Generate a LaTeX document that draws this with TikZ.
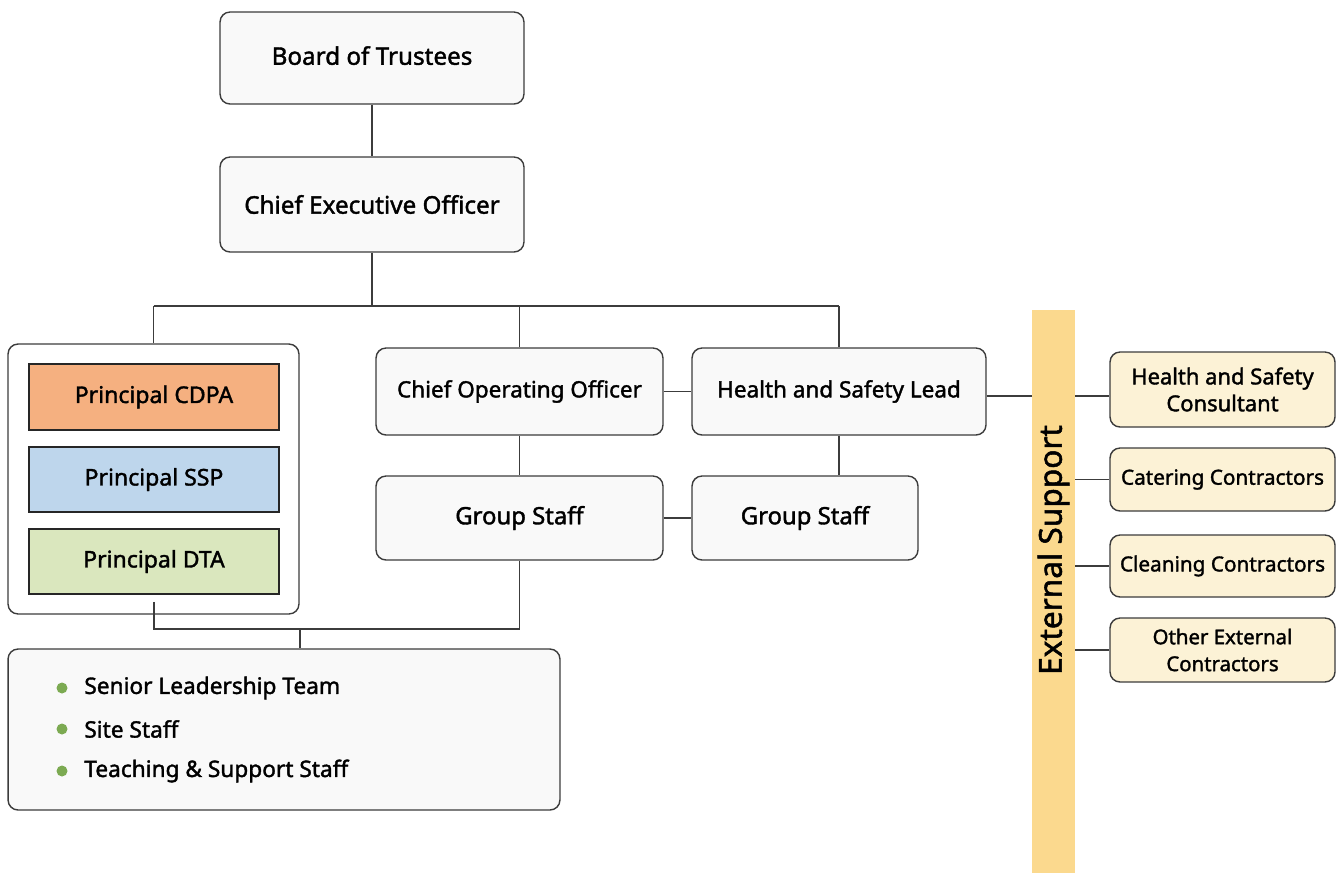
\documentclass[tikz,border=0pt]{standalone}
\usepackage{fontspec}
\setmainfont{Noto Sans}[FakeBold=1.6]
\usepackage{tikz}
\usetikzlibrary{calc, positioning}
\definecolor{linegray}{RGB}{60, 60, 60}
\definecolor{boxfill}{RGB}{249, 249, 249}
\definecolor{cdpa}{RGB}{245, 176, 128}
\definecolor{ssp}{RGB}{190, 214, 236}
\definecolor{dta}{RGB}{218, 231, 190}
\definecolor{band}{RGB}{251, 217, 142}
\definecolor{contract}{RGB}{252, 242, 214}
\definecolor{dotgreen}{RGB}{124, 170, 82}
\tikzset{
    orgnode/.style = {draw=linegray, line width=0.8pt, rectangle, rounded corners=0.2cm, fill=boxfill,
      inner sep = 0em, font=\fontsize{12.8}{15}\selectfont},
    principalnode/.style = {draw=black!85, line width=1.1pt, rectangle, inner sep = 0em,
      minimum width=5cm, font=\fontsize{13.1}{15}\selectfont},
    contractnode/.style = {draw=linegray, line width=0.8pt, rectangle, rounded corners=0.2cm, fill=contract,
      inner sep = 0em, minimum width=4.5cm, font=\fontsize{11.8}{15.3}\selectfont},
    textnode/.style  = {draw=none, fill=none, rectangle, inner sep = 0em, font=\fontsize{12.9}{15}\selectfont},
    dotnode/.style = {fill=dotgreen, circle, inner sep = 0em, minimum size=0.22cm},
    connect/.style = {draw=linegray, line width=0.8pt},
    every text node part/.style={align=center}
}

\begin{document}
\begin{tikzpicture}[x=0.02cm, y=-0.02cm]
    \useasboundingbox (0,0) rectangle (1341,873);

    % top of the tree
    \node [name = board, orgnode, minimum width=6.08cm, minimum height=1.84cm, font=\fontsize{13.8}{15}\selectfont] at (372,58) {\raisebox{0.1cm}{Board of Trustees}};
    \node [name = ceo, orgnode, minimum width=6.08cm, minimum height=1.9cm, font=\fontsize{13.8}{15}\selectfont] at (372,204.5) {Chief Executive Officer};
    \coordinate (bar) at (372,306);

    % principals
    \node [name = lead, orgnode, fill=white, minimum width=5.82cm, minimum height=5.4cm] at (153.5,479) {};
    \node [name = cdpa, principalnode, fill=cdpa, minimum height=1.32cm] at (154,397) {\raisebox{0.1cm}{Principal CDPA}};
    \node [name = ssp, principalnode, fill=ssp, minimum height=1.3cm] at (154,479.5) {\raisebox{0.1cm}{Principal SSP}};
    \node [name = dta, principalnode, fill=dta, minimum height=1.3cm] at (154,561.5) {\raisebox{0.1cm}{Principal DTA}};

    % operations
    \node [name = coo, orgnode, minimum width=5.74cm, minimum height=1.74cm] at (519.5,391.5) {Chief Operating Officer};
    \node [name = hsl, orgnode, minimum width=5.88cm, minimum height=1.74cm] at (839,391.5) {Health and Safety Lead};
    \node [name = gsa, orgnode, minimum width=5.74cm, minimum height=1.68cm, font=\fontsize{13.6}{15}\selectfont] at (519.5,518) {Group Staff};
    \node [name = gsb, orgnode, minimum width=4.52cm, minimum height=1.68cm, font=\fontsize{13.6}{15}\selectfont] at (805,518) {Group Staff};

    % school staff
    \node [name = staff, orgnode, minimum width=11.04cm, minimum height=3.22cm] at (284,729.5) {};
    \foreach \y/\t in {688/Senior Leadership Team, 729/Site Staff, 771/Teaching \& Support Staff} {
        \node [dotnode] at (62,\y) {};
        \node [textnode, anchor=west] at (84,\y) {\t};
    }

    % external support
    \node [name = band, rectangle, fill=band, inner sep=0em, minimum width=0.86cm, minimum height=11.26cm] at (1053.5,591.5) {};
    \node [name = ext, textnode, rotate=90, font=\fontsize{18}{20}\selectfont] at (1053.5,550) {External Support};
    \node [name = hsc, contractnode, minimum height=1.5cm, font=\fontsize{12.5}{15.3}\selectfont] at (1222.5,389.5) {Health and Safety\\Consultant};
    \node [name = cat, contractnode, minimum height=1.26cm] at (1222.5,479.5) {Catering Contractors};
    \node [name = cln, contractnode, minimum height=1.24cm] at (1222.5,566) {Cleaning Contractors};
    \node [name = oth, contractnode, minimum height=1.28cm, font=\fontsize{11.6}{15.3}\selectfont] at (1222.5,650) {Other External\\Contractors};

    % connectors
    \draw [connect] (board) -- (ceo);
    \draw [connect] (ceo.south) -- (bar);
    \draw [connect] (lead.north |- bar) -- (hsl.north |- bar);
    \draw [connect] (lead.north) -- (lead.north |- bar);
    \draw [connect] (coo.north) -- (coo.north |- bar);
    \draw [connect] (hsl.north) -- (hsl.north |- bar);
    \draw [connect] (coo) -- (hsl);
    \draw [connect] (coo) -- (gsa);
    \draw [connect] (hsl.south) -- (hsl.south |- gsb.north);
    \draw [connect] (gsa) -- (gsb);
    \coordinate (join) at (300,629);
    \draw [connect] ([yshift=-0.14cm]dta.south) |- (join) -| (gsa.south);
    \draw [connect] (join) -- (join |- staff.north);
    \draw [connect] ([yshift=-0.09cm]hsl.east) -- ([yshift=-0.09cm]hsl.east -| band.west);
    \draw [connect] ([yshift=-0.09cm]band.east |- hsl.east) -- ([yshift=-0.09cm]hsl.east -| hsc.west);
    \draw [connect] (band.east |- cat.west) -- (cat.west);
    \draw [connect] (band.east |- cln.west) -- (cln.west);
    \draw [connect] (band.east |- oth.west) -- (oth.west);
\end{tikzpicture}
\end{document}
